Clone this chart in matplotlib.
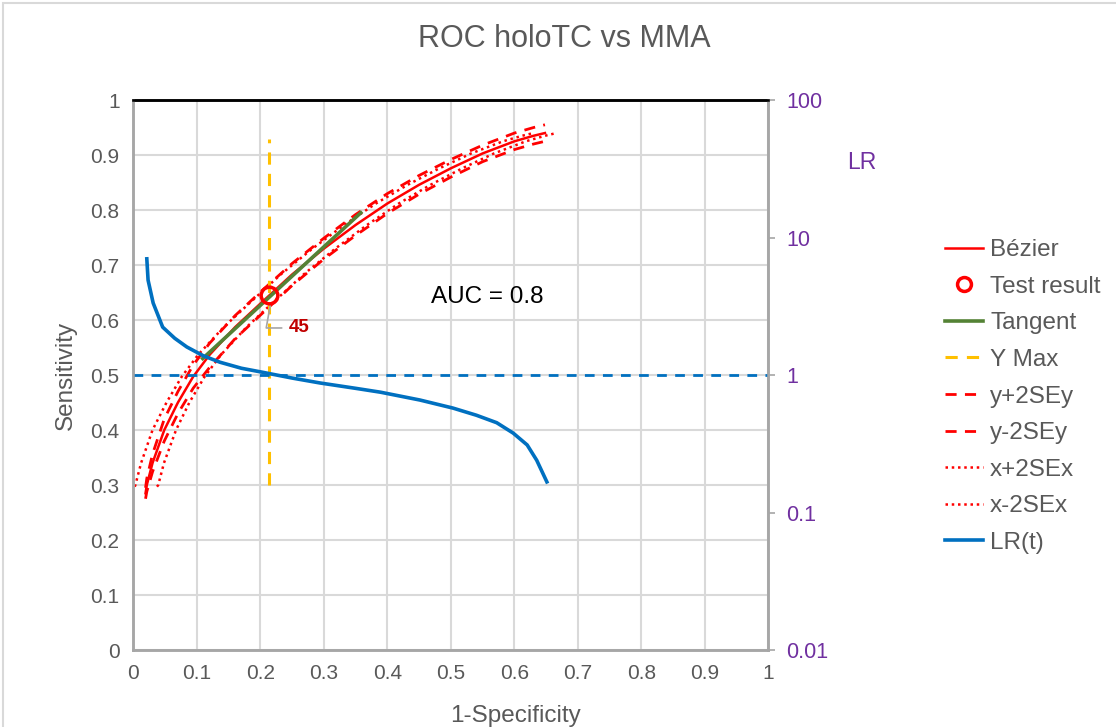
import numpy as np
import matplotlib.pyplot as plt
from matplotlib.lines import Line2D
from matplotlib.patches import Rectangle

plt.rcParams['font.family'] = ['Liberation Sans', 'DejaVu Sans']

# Bezier ROC curve
bez_x = [0.019, 0.021, 0.03, 0.0485, 0.07, 0.094, 0.12, 0.16, 0.2, 0.25, 0.3, 0.35, 0.4, 0.45, 0.5, 0.55, 0.6, 0.63, 0.648]
bez_y = [0.285, 0.30, 0.34, 0.40, 0.45, 0.497, 0.537, 0.587, 0.630, 0.683, 0.730, 0.773, 0.812, 0.846, 0.876, 0.903, 0.925, 0.935, 0.94]

# y +/- 2SEy bands
sey_up = [0.295, 0.312, 0.356, 0.42, 0.47, 0.518, 0.558, 0.608, 0.651, 0.703, 0.749, 0.792, 0.830, 0.863, 0.892, 0.918, 0.940, 0.950, 0.955]
sey_lo = [0.275, 0.288, 0.324, 0.38, 0.43, 0.476, 0.514, 0.566, 0.609, 0.663, 0.711, 0.754, 0.794, 0.829, 0.860, 0.888, 0.910, 0.920, 0.925]

# x +/- 2SEx bands
sex_y = [0.297, 0.30, 0.34, 0.40, 0.45, 0.497, 0.537, 0.587, 0.630, 0.683, 0.730, 0.773, 0.812, 0.846, 0.876, 0.903, 0.925, 0.935, 0.94]
sex_up = [0.037, 0.039, 0.048, 0.067, 0.088, 0.112, 0.138, 0.178, 0.218, 0.268, 0.318, 0.368, 0.418, 0.468, 0.518, 0.568, 0.618, 0.648, 0.666]
sex_lo = [0.002, 0.003, 0.012, 0.030, 0.052, 0.076, 0.102, 0.142, 0.182, 0.232, 0.282, 0.332, 0.382, 0.432, 0.482, 0.532, 0.582, 0.612, 0.630]

# tangent and test point
tan_x = [0.109, 0.358]
tan_y = [0.53, 0.795]
test_x = 0.213
test_y = 0.645
test_label = '45'
ymax_y = [0.30, 0.93]

# likelihood ratio curve
lr_x = [0.021, 0.023, 0.031, 0.046, 0.065, 0.084, 0.11, 0.136, 0.17, 0.202, 0.25, 0.294, 0.35, 0.389, 0.451, 0.503, 0.54, 0.572, 0.598, 0.62, 0.635, 0.651]
lr_y = [7.0, 4.9, 3.34, 2.23, 1.85, 1.6, 1.38, 1.24, 1.12, 1.05, 0.95, 0.875, 0.8, 0.75, 0.658, 0.575, 0.51, 0.45, 0.378, 0.31, 0.24, 0.167]
lr_ref = 1

auc = 0.8

grey = '#595959'
red = '#ff0000'
blue = '#0070c0'
green = '#548235'
gold = '#ffc000'
purple = '#7030a0'

fig = plt.figure(figsize=(11.16, 7.27), dpi=100)
fig.patches.append(Rectangle((0.003, -0.05), 1.2, 1.046, transform=fig.transFigure,
                             fill=False, edgecolor='#d9d9d9', linewidth=1.5))
ax = fig.add_axes([0.1196, 0.1059, 0.569, 0.7565])
ax2 = ax.twinx()

ax.plot(bez_x, bez_y, color=red, lw=1.8)
ax.plot(bez_x, sey_up, color=red, lw=2, ls=(0, (4, 3)))
ax.plot(bez_x, sey_lo, color=red, lw=2, ls=(0, (4, 3)))
ax.plot(sex_up, sex_y, color=red, lw=1.8, ls=(0, (1, 1.5)))
ax.plot(sex_lo, sex_y, color=red, lw=1.8, ls=(0, (1, 1.5)))
ax.plot(tan_x, tan_y, color=green, lw=2.6)
ax.plot([test_x, test_x], ymax_y, color=gold, lw=2.2, ls=(0, (4, 3)))
ax.plot([test_x], [test_y], 'o', mfc='none', mec=red, mew=2.5, ms=12, zorder=5)
ax.annotate(test_label, xy=(test_x + 0.003, test_y - 0.014), xytext=(13, -18),
            textcoords='offset points', color='#c00000', fontsize=13.5, fontweight='bold',
            va='center', ha='left',
            arrowprops=dict(arrowstyle='-', color='#a6a6a6', lw=1.2, shrinkA=3, shrinkB=0,
                            connectionstyle='angle,angleA=0,angleB=80,rad=0'))
ax.text(0.557, 0.642, 'AUC = %.1f' % auc, fontsize=17.5, color='black', ha='center', va='center')

ax2.set_yscale('log')
ax2.plot(lr_x, lr_y, color=blue, lw=2.6)
ax2.axhline(lr_ref, color=blue, lw=2, ls=(0, (3.5, 3)))
ax2.set_ylim(0.01, 100)
ax2.set_yticks([0.01, 0.1, 1, 10, 100])
ax2.set_yticklabels(['0.01', '0.1', '1', '10', '100'])
ax2.minorticks_off()
ax2.tick_params(axis='y', colors='#a6a6a6', labelcolor=purple, labelsize=15.5, length=5, width=1.2, pad=8)

ax.set_xlim(0, 1)
ax.set_ylim(0, 1)
ticks = np.arange(0, 1.01, 0.1)
lbls = ['0'] + ['%.1f' % t for t in ticks[1:-1]] + ['1']
ax.set_xticks(ticks)
ax.set_xticklabels(lbls)
ax.set_yticks(ticks)
ax.set_yticklabels(lbls)
ax.tick_params(length=0, labelsize=15, labelcolor=grey, pad=10)
ax.grid(True, color='#d9d9d9', lw=1.5)
ax.set_axisbelow(True)

for a in (ax, ax2):
    a.spines['left'].set_color('#a6a6a6')
    a.spines['bottom'].set_color('#a6a6a6')
    a.spines['right'].set_color('#a6a6a6')
    a.spines['top'].set_color('black')
    for s in a.spines.values():
        s.set_linewidth(1.8)

fig.text(0.506, 0.946, 'ROC holoTC vs MMA', fontsize=22, color=grey, ha='center', va='center')
fig.text(0.059, 0.484, 'Sensitivity', fontsize=17.5, color=grey, rotation=90, ha='center', va='center')
fig.text(0.462, 0.015, '1-Specificity', fontsize=17.5, color=grey, ha='center', va='center')
fig.text(0.772, 0.776, 'LR', fontsize=16.5, color=purple, ha='center', va='center')

handles = [
    Line2D([], [], color=red, lw=1.8),
    Line2D([], [], ls='none', marker='o', mfc='none', mec=red, mew=2.5, ms=10),
    Line2D([], [], color=green, lw=2.6),
    Line2D([], [], color=gold, lw=2.2, ls=(0, (4, 3))),
    Line2D([], [], color=red, lw=2, ls=(0, (4, 3))),
    Line2D([], [], color=red, lw=2, ls=(0, (4, 3))),
    Line2D([], [], color=red, lw=1.8, ls=(0, (1, 1.5))),
    Line2D([], [], color=red, lw=1.8, ls=(0, (1, 1.5))),
    Line2D([], [], color=blue, lw=2.6),
]
names = ['Bézier', 'Test result', 'Tangent', 'Y Max', 'y+2SEy', 'y-2SEy', 'x+2SEx', 'x-2SEx', 'LR(t)']
leg = fig.legend(handles, names, loc='upper left', bbox_to_anchor=(0.847, 0.671),
                 frameon=False, fontsize=17.5, handlelength=1.55, handletextpad=0.3,
                 labelspacing=0.6, borderaxespad=0, borderpad=0)
for t in leg.get_texts():
    t.set_color(grey)

fig.savefig('out.png', dpi=100)
